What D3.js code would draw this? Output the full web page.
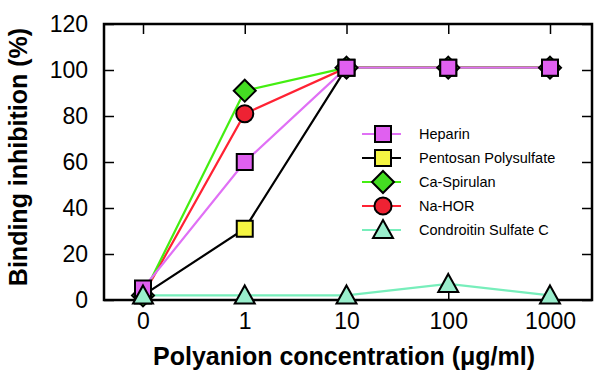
<!DOCTYPE html>
<html>
<head>
<meta charset="utf-8">
<script src="https://cdn.jsdelivr.net/npm/d3@7"></script>
<style>
  body { margin: 0; background: #fff; }
  text { font-family: "Liberation Sans", Arial, sans-serif; }
</style>
</head>
<body>
<div id="chart"></div>
<script>
var categories = ["0", "1", "10", "100", "1000"];
var yTicks = [0, 20, 40, 60, 80, 100, 120];

var heparin = [5, 60, 101, 101, 101];
var pentosan = [2, 31, 101, 101, 101];
var caSpirulan = [2, 91, 101, 101, 101];
var naHOR = [2, 81, 101, 101, 101];
var condroitin = [2, 2, 2, 7, 2];

var seriesNames = ["Heparin", "Pentosan Polysulfate", "Ca-Spirulan", "Na-HOR", "Condroitin Sulfate C"];

var series = [
    { name: seriesNames[0], values: heparin, line: "#e070f5", fill: "#e060f0", shape: "square" },
    { name: seriesNames[1], values: pentosan, line: "#000000", fill: "#f5f542", shape: "square" },
    { name: seriesNames[2], values: caSpirulan, line: "#44ee11", fill: "#44dd22", shape: "diamond" },
    { name: seriesNames[3], values: naHOR, line: "#ff2233", fill: "#ee2233", shape: "circle" },
    { name: seriesNames[4], values: condroitin, line: "#77eebb", fill: "#99eecc", shape: "triangle" }
];

var W = 600, H = 387;
var m = { left: 104, right: 592, top: 24, bottom: 300 };

var svg = d3.select("#chart").append("svg")
    .attr("width", W)
    .attr("height", H);

var x = d3.scalePoint()
    .domain(categories)
    .range([143, 550]);

var y = d3.scaleLinear()
    .domain([0, 120])
    .range([m.bottom, m.top]);

// ticks inward on all sides
var tl = 10;
var gx = svg.append("g")
    .attr("transform", "translate(0," + m.bottom + ")")
    .call(d3.axisBottom(x).tickSize(-tl).tickPadding(13));
gx.select(".domain").remove();
gx.selectAll("line").attr("stroke", "#000").attr("stroke-width", 1.5);
gx.selectAll("text").style("font-size", "23px").attr("fill", "#000");

var gxt = svg.append("g")
    .attr("transform", "translate(0," + m.top + ")")
    .call(d3.axisTop(x).tickSize(-tl).tickFormat(""));
gxt.select(".domain").remove();
gxt.selectAll("line").attr("stroke", "#000").attr("stroke-width", 1.5);

var gy = svg.append("g")
    .attr("transform", "translate(" + m.left + ",0)")
    .call(d3.axisLeft(y).tickValues(yTicks).tickSize(-tl).tickPadding(16));
gy.select(".domain").remove();
gy.selectAll("line").attr("stroke", "#000").attr("stroke-width", 1.5);
gy.selectAll("text").style("font-size", "23px").attr("fill", "#000");

var gyr = svg.append("g")
    .attr("transform", "translate(" + m.right + ",0)")
    .call(d3.axisRight(y).tickValues(yTicks).tickSize(-tl).tickFormat(""));
gyr.select(".domain").remove();
gyr.selectAll("line").attr("stroke", "#000").attr("stroke-width", 1.5);

// frame
svg.append("rect")
    .attr("x", m.left)
    .attr("y", m.top)
    .attr("width", m.right - m.left)
    .attr("height", m.bottom - m.top)
    .attr("fill", "none")
    .attr("stroke", "#000")
    .attr("stroke-width", 2.5);

// axis titles
svg.append("text")
    .attr("x", 344)
    .attr("y", 365)
    .attr("text-anchor", "middle")
    .style("font-size", "25px")
    .style("font-weight", "bold")
    .text("Polyanion concentration (\u03bcg/ml)");

svg.append("text")
    .attr("transform", "translate(27,157) rotate(-90)")
    .attr("text-anchor", "middle")
    .style("font-size", "25px")
    .style("font-weight", "bold")
    .text("Binding inhibition (%)");

function symbolPath(shape) {
    if (shape == "square") return d3.symbol().type(d3.symbolSquare).size(256)();
    if (shape == "diamond") return "M0,-11L11,0L0,11L-11,0Z";
    if (shape == "circle") return d3.symbol().type(d3.symbolCircle).size(230)();
    return "M0,-10L10,8L-10,8Z";
}

var line = d3.line()
    .x(function (d, i) { return x(categories[i]); })
    .y(function (d) { return y(d); });

// lines, heparin drawn last so it sits on top of the plateau
[4, 1, 3, 2, 0].forEach(function (k) {
    var s = series[k];
    svg.append("path")
        .datum(s.values)
        .attr("d", line)
        .attr("fill", "none")
        .attr("stroke", s.line)
        .attr("stroke-width", 2.2);
});

// markers, drawn so heparin ends up above the others
var order = [1, 3, 2, 0, 4];
order.forEach(function (k) {
    var s = series[k];
    svg.append("g").selectAll("path")
        .data(s.values)
        .enter().append("path")
        .attr("transform", function (d, i) {
            return "translate(" + x(categories[i]) + "," + y(d) + ")";
        })
        .attr("d", symbolPath(s.shape))
        .attr("fill", s.fill)
        .attr("stroke", "#000")
        .attr("stroke-width", 2);
});

// legend
var legend = svg.append("g");
series.forEach(function (s, i) {
    var ly = 134 + i * 24;
    legend.append("line")
        .attr("x1", 362).attr("x2", 401)
        .attr("y1", ly).attr("y2", ly)
        .attr("stroke", s.line)
        .attr("stroke-width", 2);
    legend.append("path")
        .attr("transform", "translate(383," + ly + ")")
        .attr("d", symbolPath(s.shape))
        .attr("fill", s.fill)
        .attr("stroke", "#000")
        .attr("stroke-width", 2);
    legend.append("text")
        .attr("x", 419)
        .attr("y", ly + 5)
        .style("font-size", "14.5px")
        .text(s.name);
});
</script>
</body>
</html>
